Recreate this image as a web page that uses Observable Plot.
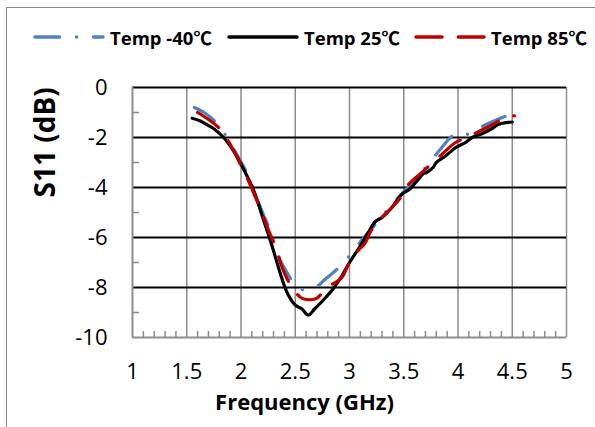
<!DOCTYPE html>
<html><head><meta charset="utf-8">
<script src="https://cdn.jsdelivr.net/npm/d3@7"></script>
<script src="https://cdn.jsdelivr.net/npm/@observablehq/plot@0.6"></script>
<style>
body{margin:0;background:#fff;}
#wrap{position:relative;width:595px;height:427px;overflow:hidden;font-family:"Open Sans","Noto Sans CJK SC",sans-serif;}
#border{position:absolute;left:6px;top:7px;width:640px;height:480px;border:1px solid #8c8c8c;box-sizing:border-box;}
#chart{position:absolute;left:0;top:0;}
#legend{position:absolute;left:0;top:26px;width:595px;height:22px;}
.item{position:absolute;top:0;display:flex;align-items:center;height:22px;}
.item span{font-weight:bold;font-size:18.5px;color:#000;margin-left:5px;white-space:nowrap;}
</style></head>
<body>
<div id="wrap"><div id="border"></div><div id="chart"></div><div id="legend"></div></div>
<script>
// Series names and colours
const seriesNames = ["Temp -40℃", "Temp 25℃", "Temp 85℃"];
const seriesColors = ["#4F81BD", "#000000", "#C00000"];
const seriesDash = ["24.5,17,0.1,17", null, "26,16.3"];

// Temp -40℃
const freqM40 = [1.57,1.66,1.72,1.79,1.86,1.94,2.04,2.12,2.21,2.28,2.34,2.43,2.49,2.52,2.56,2.62,2.68,2.72,2.77,2.88,2.99,3.11,3.19,3.30,3.40,3.51,3.60,3.70,3.79,3.87,3.93,3.98,4.04,4.13,4.24,4.38,4.52];
const s11M40  = [-0.80,-1.00,-1.20,-1.50,-1.92,-2.52,-3.30,-4.15,-5.12,-5.85,-6.70,-7.45,-7.88,-8.02,-8.08,-8.10,-8.02,-7.90,-7.69,-7.29,-6.79,-6.12,-5.72,-5.15,-4.65,-4.12,-3.70,-3.20,-2.72,-2.30,-2.00,-1.85,-1.92,-1.79,-1.52,-1.25,-1.03];

// Temp 25℃
const freq25 = [1.55,1.62,1.68,1.75,1.85,1.94,2.03,2.12,2.20,2.28,2.37,2.43,2.50,2.56,2.62,2.68,2.77,2.85,2.92,3.00,3.09,3.18,3.24,3.30,3.39,3.48,3.56,3.62,3.68,3.71,3.77,3.80,3.89,3.98,4.07,4.13,4.22,4.31,4.37,4.45,4.50];
const s1125  = [-1.23,-1.33,-1.47,-1.65,-2.05,-2.60,-3.32,-4.15,-5.20,-6.25,-7.55,-8.25,-8.70,-8.85,-9.10,-8.85,-8.45,-8.05,-7.60,-7.00,-6.40,-5.75,-5.35,-5.20,-4.80,-4.28,-4.05,-3.75,-3.45,-3.40,-3.20,-3.00,-2.72,-2.40,-2.20,-2.00,-1.85,-1.65,-1.48,-1.40,-1.38];

// Temp 85℃
const freq85 = [1.60,1.69,1.80,1.89,2.00,2.06,2.19,2.23,2.34,2.37,2.43,2.49,2.55,2.59,2.69,2.79,2.93,2.99,3.08,3.14,3.20,3.30,3.39,3.48,3.54,3.64,3.73,3.85,3.97,4.05,4.15,4.28,4.42,4.52];
const s1185  = [-1.00,-1.25,-1.63,-2.19,-3.12,-3.65,-4.99,-5.45,-6.65,-7.10,-7.70,-8.12,-8.40,-8.47,-8.45,-8.02,-7.60,-7.08,-6.52,-6.25,-5.72,-5.19,-4.80,-4.35,-3.90,-3.50,-3.15,-2.68,-2.22,-2.05,-1.85,-1.57,-1.25,-1.13];

// Axis ticks
const xTicks = [1,1.5,2,2.5,3,3.5,4,4.5,5];
const yTicks = [0,-2,-4,-6,-8,-10];
const xMinor = d3.range(10,51).map(d => d/10).filter(d => Math.round(d*10) % 5 !== 0);
const yMinor = [-1,-3,-5,-7,-9];
const yGrid = [0,-2,-4,-6,-8];
const xGrid = [1.5,2,2.5,3,3.5,4,4.5,5];

const freqs = [freqM40, freq25, freq85];
const vals = [s11M40, s1125, s1185];
const series = seriesNames.map((name,i) => ({
  name, color: seriesColors[i], dash: seriesDash[i],
  data: freqs[i].map((f,j) => ({f, s11: vals[i][j]}))
}));

const grey = "#8c8c8c";
const font = '"Open Sans","Noto Sans CJK SC",sans-serif';

const plot = Plot.plot({
  width: 595, height: 427,
  marginLeft: 132, marginRight: 29, marginTop: 87, marginBottom: 90,
  style: {fontFamily: font, fontSize: "22px", color: "#000", background: "transparent", overflow: "visible"},
  x: {domain: [1,5]},
  y: {domain: [-10,0]},
  marks: [
    Plot.ruleX(xGrid, {stroke: grey, strokeWidth: 1.5}),
    Plot.ruleY(yGrid, {stroke: "#000", strokeWidth: 2}),
    Plot.ruleX([1], {stroke: grey, strokeWidth: 2}),
    Plot.ruleY([-10], {stroke: grey, strokeWidth: 2}),
    Plot.axisX(xMinor, {tickSize: 6, dy: -6, fill: "none", stroke: grey, strokeWidth: 1.5, label: null}),
    Plot.axisY(yMinor, {tickSize: 7, dx: 7, fill: "none", stroke: grey, strokeWidth: 1.5, label: null}),
    Plot.axisX(xTicks, {tickSize: 0, tickPadding: 26, fontSize: 22, tickFormat: d => String(d), label: null}),
    Plot.axisY(yTicks, {tickSize: 0, tickPadding: 25, fontSize: 22, tickFormat: d => String(d), label: null}),
    ...series.map(s => Plot.line(s.data, {
      x: "f", y: "s11", stroke: s.color, strokeWidth: 3.2,
      strokeDasharray: s.dash, strokeLinecap: "round", strokeLinejoin: "round",
      curve: "catmull-rom"
    })),
    Plot.text(["Frequency (GHz)"], {text: d => d, frameAnchor: "bottom", dx: -45, dy: 65, fontSize: 22, fontWeight: "bold", lineAnchor: "middle"}),
    Plot.text(["S11 (dB)"], {text: d => d, frameAnchor: "left", dx: -86, dy: -15, rotate: -90, fontSize: 28, fontWeight: "bold", lineAnchor: "middle"})
  ]
});
document.getElementById("chart").appendChild(plot);

// Legend (item left positions are layout)
const legendLeft = [35, 229, 416];
const legend = d3.select("#legend");
series.forEach((s, i) => {
  const it = legend.append("div").attr("class", "item").style("left", (legendLeft[i] - 2) + "px");
  const sv = it.append("svg").attr("width", 72).attr("height", 10);
  sv.append("line").attr("x1", 2).attr("x2", 70).attr("y1", 5).attr("y2", 5)
    .attr("stroke", s.color).attr("stroke-width", 3.5).attr("stroke-linecap", "round")
    .attr("stroke-dasharray", s.dash);
  it.append("span").text(s.name);
});
</script>
</body></html>
